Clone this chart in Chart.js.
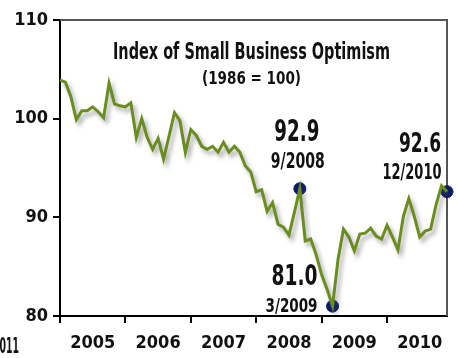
<!DOCTYPE html>
<html>
<head>
<meta charset="utf-8">
<script src="https://cdn.jsdelivr.net/npm/chart.js@4"></script>
<style>
  html, body { margin: 0; padding: 0; background: #fff; }
  #wrap { width: 458px; height: 358px; }
</style>
</head>
<body>
<div id="wrap"><canvas id="optChart" width="458" height="358"></canvas></div>
<script>
// years on the axis, one label per month
const years = [2005, 2006, 2007, 2008, 2009, 2010];
const months = [];
years.forEach(y => { for (let m = 1; m <= 12; m++) months.push(m + '/' + y); });

// monthly index values
const v2005 = [103.9, 103.7, 102.2, 99.9, 100.8, 100.8, 101.2, 100.7, 100.1, 103.6, 101.5, 101.3];
const v2006 = [101.2, 101.6, 98.1, 100.0, 98.1, 96.9, 98.0, 95.9, 98.2, 100.6, 99.8, 96.6];
const v2007 = [98.9, 98.3, 97.2, 96.9, 97.2, 96.6, 97.6, 96.6, 97.2, 96.6, 95.2, 94.6];
const v2008 = [92.6, 92.8, 90.6, 91.5, 89.3, 89.0, 88.2, 90.5, 92.9, 87.6, 87.8, 86.2];
const v2009 = [84.2, 82.7, 81.0, 85.7, 88.8, 88.0, 86.6, 88.3, 88.4, 88.9, 88.1, 87.8];
const v2010 = [89.2, 88.0, 86.7, 90.1, 91.9, 90.1, 88.0, 88.6, 88.8, 91.3, 93.2, 92.6];
const values = [].concat(v2005, v2006, v2007, v2008, v2009, v2010);

// highlighted points
const markMonths = ['9/2008', '3/2009', '12/2010'];
const markValues = [92.9, 81.0, 92.6];

const yTicks = [80, 90, 100, 110];

const FONT = '"DejaVu Sans Condensed", "DejaVu Sans", sans-serif';

// condensed bold text: cap height and width given, x/y is the box centre
function txt(ctx, s, cx, cy, cap, width, align) {
  const size = cap / 0.73;
  ctx.save();
  ctx.font = 'bold ' + size + 'px ' + FONT;
  const w = ctx.measureText(s).width;
  ctx.translate(cx, cy + cap / 2);
  ctx.scale(width / w, 1);
  ctx.fillStyle = '#111';
  ctx.textAlign = align || 'center';
  ctx.textBaseline = 'alphabetic';
  ctx.fillText(s, 0, 0);
  ctx.restore();
}

// drop shadow under the green line
const shadowPlugin = {
  id: 'lineShadow',
  beforeDatasetDraw(chart, args) {
    if (args.index !== 0) return;
    const c = chart.ctx;
    c.save();
    c.shadowColor = 'rgba(70,70,70,0.45)';
    c.shadowBlur = 4;
    c.shadowOffsetX = 3;
    c.shadowOffsetY = 4;
  },
  afterDatasetDraw(chart, args) {
    if (args.index !== 0) return;
    chart.ctx.restore();
  }
};

// top/right frame + texts
const decoPlugin = {
  id: 'deco',
  beforeDatasetsDraw(chart) {
    const c = chart.ctx, a = chart.chartArea;
    c.save();
    c.strokeStyle = '#555';
    c.lineWidth = 2;
    c.beginPath();
    c.moveTo(a.left, a.top);
    c.lineTo(a.right, a.top);
    c.lineTo(a.right, a.bottom);
    c.stroke();
    c.restore();
  },
  afterDraw(chart) {
    const c = chart.ctx;
    const xs = chart.scales.x, ys = chart.scales.y;
    txt(c, 'Index of Small Business Optimism', 251.5, 50, 17, 277);
    txt(c, '(1986 = 100)', 251.5, 78, 12.5, 99);

    const p0x = xs.getPixelForValue(months.indexOf(markMonths[0]));
    const p0y = ys.getPixelForValue(markValues[0]);
    txt(c, markValues[0].toFixed(1), p0x - 3, p0y - 59, 22, 45);
    txt(c, markMonths[0], p0x - 2, p0y - 29, 16, 54);

    const p1x = xs.getPixelForValue(months.indexOf(markMonths[1]));
    const p1y = ys.getPixelForValue(markValues[1]);
    txt(c, markValues[1].toFixed(1), p1x - 38, p1y - 31, 20.5, 46);
    txt(c, markMonths[1], p1x - 41, p1y - 1, 14, 52);

    const p2x = xs.getPixelForValue(months.indexOf(markMonths[2]));
    const p2y = ys.getPixelForValue(markValues[2]);
    txt(c, markValues[2].toFixed(1), p2x - 27, p2y - 50, 20, 42);
    txt(c, markMonths[2], p2x - 35, p2y - 21, 16, 59);

    txt(c, '2011', 6, 345, 15, 26);
  }
};

const ctx = document.getElementById('optChart').getContext('2d');

const optChart = new Chart(ctx, {
  type: 'line',
  data: {
    labels: months,
    datasets: [{
      label: 'Optimism',
      data: values,
      borderColor: '#6b8c1f',
      borderWidth: 3,
      pointRadius: 0,
      tension: 0,
      fill: false
    }, {
      label: 'Marks',
      data: markMonths.map((m, i) => ({ x: m, y: markValues[i] })),
      showLine: false,
      pointRadius: 6,
      pointBackgroundColor: '#0b1c68',
      pointBorderColor: '#0b1c68',
      clip: false
    }]
  },
  options: {
    responsive: false,
    animation: false,
    layout: { padding: { top: 20, right: 11, left: 0, bottom: 0 } },
    scales: {
      x: {
        type: 'category',
        offset: false,
        grid: {
          drawOnChartArea: false,
          tickLength: 7,
          lineWidth: 2,
          color: c => (c.index % 12 === 0) ? '#000' : 'rgba(0,0,0,0)'
        },
        border: { display: true, color: '#000', width: 2 },
        ticks: {
          autoSkip: false,
          maxRotation: 0,
          color: '#111',
          padding: 10,
          font: { family: FONT, size: 18, weight: 'bold' },
          callback: (v, i) => (i % 12 === 6) ? String(years[Math.floor(i / 12)]) : ''
        },
        afterFit: s => { s.height = 42; }
      },
      y: {
        min: 80,
        max: 110,
        afterBuildTicks: s => { s.ticks = yTicks.map(v => ({ value: v })); },
        grid: {
          drawOnChartArea: false,
          tickLength: 7,
          lineWidth: 2,
          color: '#000'
        },
        border: { display: true, color: '#000', width: 2 },
        ticks: {
          color: '#111',
          padding: 5,
          font: { family: FONT, size: 18, weight: 'bold' }
        },
        afterFit: s => { s.width = 60; }
      }
    },
    plugins: {
      legend: { display: false },
      tooltip: { enabled: false }
    }
  },
  plugins: [shadowPlugin, decoPlugin]
});
</script>
</body>
</html>
